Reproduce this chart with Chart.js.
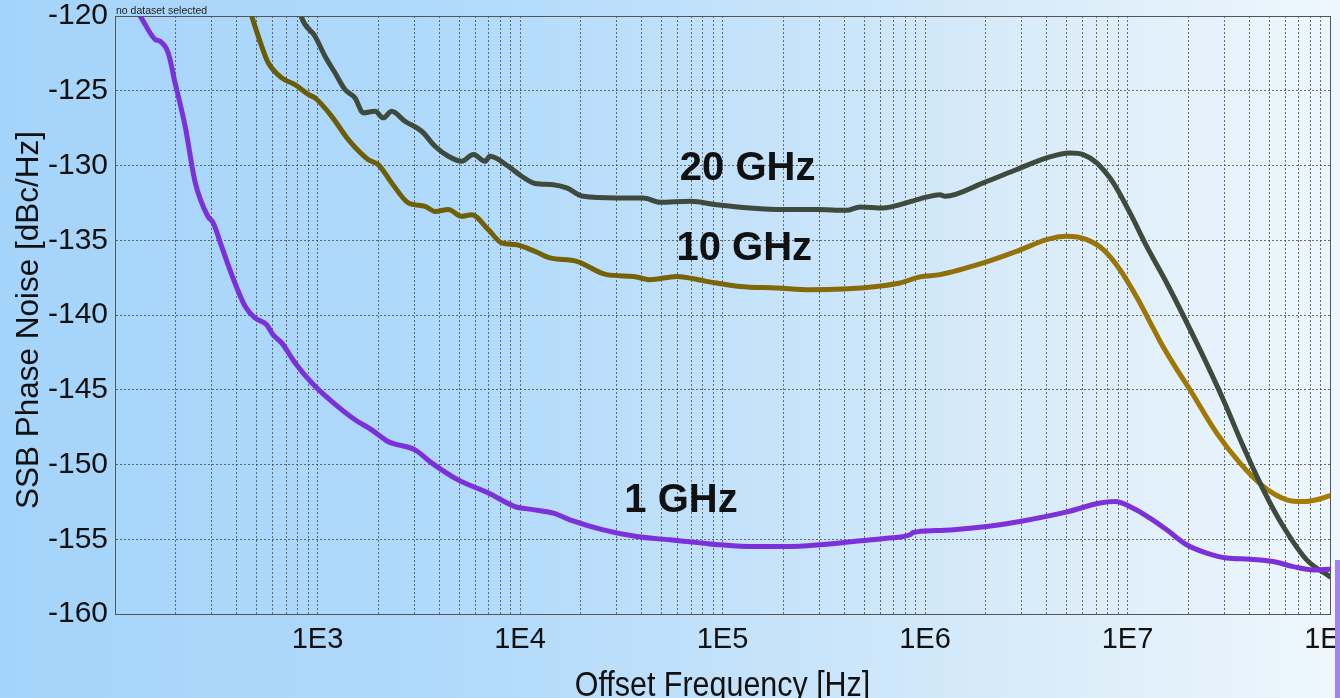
<!DOCTYPE html>
<html>
<head>
<meta charset="utf-8">
<title>SSB Phase Noise</title>
<script src="https://cdn.jsdelivr.net/npm/chart.js@4.4.1/dist/chart.umd.min.js"></script>
<style>
  html, body { margin: 0; padding: 0; overflow: hidden; }
  canvas { display: block; }
</style>
</head>
<body>
<canvas id="noiseChart" width="1340" height="698"></canvas>
<script>
// offset frequency [Hz] / SSB phase noise [dBc/Hz], one pair of arrays per carrier
const freq1G = [120, 133, 158, 167, 183, 198, 222, 249, 288, 305, 336, 377, 439, 491, 561, 603, 665, 774, 936,
  1175, 1532, 1852, 2230, 3030, 3660, 4945, 6950, 9440, 11400, 14600, 17650, 25790, 37700, 55050, 80100, 97200,
  142000, 207500, 303000, 442500, 647000, 843000, 875000, 1143000, 1380000, 2017000, 2945000, 5025000, 7313000,
  8676000, 10680000, 12915000, 15620000, 19600000, 24610000, 30900000, 40250000, 52480000, 65880000, 82700000, 100000000];
const noise1G = [-119.2, -120.0, -121.57, -121.69, -122.46, -124.47, -127.38, -131.14, -133.42, -133.82, -135.41, -137.3, -139.42, -140.2, -140.65, -141.32, -141.87, -143.19, -144.53,
  -145.78, -147.01, -147.68, -148.46, -149.02, -149.89, -151.03, -151.89, -152.81, -153.0, -153.25, -153.7, -154.37, -154.82, -155.04, -155.26, -155.37,
  -155.49, -155.49, -155.37, -155.15, -154.93, -154.7, -154.55, -154.42, -154.37, -154.15, -153.81, -153.17, -152.58,
  -152.48, -152.92, -153.59, -154.37, -155.37, -155.93, -156.26, -156.33, -156.49, -156.83, -157.05, -157.0];

const freq10G = [455, 473, 530, 571, 666, 774, 901, 972, 1175, 1420, 1782, 1996, 2325, 2808, 3396, 3804, 4425, 5154, 5773,
  6975, 8121, 9448, 11860, 14070, 19050, 26800, 36270, 43850, 59400, 83560, 122000, 185200, 270500, 395000, 577500,
  752500, 944800, 1186000, 1941000, 2837000, 3990000, 5010000, 6288000, 7596000, 9183000, 11100000, 13410000, 14470000,
  17000000, 20350000, 27580000, 35950000, 46850000, 61140000, 73850000, 85990000, 100000000];
const noise10G = [-119.3, -120.0, -122.02, -123.13, -124.14, -124.59, -125.25, -125.48, -126.71, -128.27, -129.61, -129.94, -131.17, -132.5, -132.73, -133.07, -132.95, -133.4, -133.29,
  -134.29, -135.18, -135.29, -135.74, -136.18, -136.41, -137.3, -137.42, -137.64, -137.42, -137.75, -138.09, -138.19, -138.31, -138.26, -138.09,
  -137.86, -137.45, -137.3, -136.52, -135.74, -134.96, -134.74, -134.96, -135.63, -136.97, -138.8, -140.9, -141.75,
  -143.35, -145.0, -147.9, -149.91, -151.47, -152.36, -152.48, -152.36, -152.09];

const freq20G = [815, 836, 972, 1089, 1220, 1367, 1532, 1684, 1923, 2113, 2325, 2704, 3270, 3804, 4425, 5154, 5881, 6718, 7111,
  8754, 10190, 11860, 14600, 17010, 20540, 30030, 40630, 49130, 69100, 93630, 136700, 199700, 291900, 410600, 477500,
  622500, 752500, 944800, 1186000, 1256000, 1941000, 2837000, 3990000, 5200000, 6049000, 7046000, 8511000, 10290000,
  12440000, 15620000, 22800000, 29720000, 37310000, 46850000, 58810000, 76720000, 100000000];
const noise20G = [-119.5, -120.12, -121.35, -122.69, -123.8, -124.92, -125.48, -126.48, -126.37, -126.81, -126.37, -127.04, -127.71, -128.71, -129.38, -129.72, -129.27, -129.72, -129.38,
  -130.05, -130.72, -131.2, -131.28, -131.5, -132.06, -132.17, -132.17, -132.46, -132.39, -132.62, -132.84, -132.95, -132.95, -133.0, -132.77,
  -132.84, -132.62, -132.23, -131.95, -132.06, -131.16, -130.27, -129.49, -129.16, -129.27, -129.83, -131.16, -133.17,
  -135.41, -137.86, -142.32, -145.67, -148.8, -151.69, -154.15, -156.38, -157.5];

// carrier names and where their labels sit (Hz, dBc/Hz at the text baseline)
const seriesNames = ['1 GHz', '10 GHz', '20 GHz'];
const labelFreq = [62400, 128000, 133000];
const labelNoise = [-153.17, -136.3, -130.94];

// axis ticks
const xTickValues = [1e3, 1e4, 1e5, 1e6, 1e7, 1e8];
const xTickLabels = ['1E3', '1E4', '1E5', '1E6', '1E7', '1E8'];
const yTickValues = [-160, -155, -150, -145, -140, -135, -130, -125, -120];

const FONT = "'Liberation Sans', Arial, sans-serif";

// grid lines at 1..9 x each decade
const xGridValues = [];
for (let e = 2; e <= 8; e++) {
  for (let m = 1; m <= 9; m++) {
    if (e === 8 && m > 1) break;
    xGridValues.push(m * Math.pow(10, e));
  }
}

function pairs(xs, ys) {
  return xs.map((x, i) => ({ x: x, y: ys[i] }));
}

const backdrop = {
  id: 'backdrop',
  beforeDraw(chart) {
    const ctx = chart.ctx;
    const g = ctx.createLinearGradient(0, 0, chart.width, 0);
    g.addColorStop(0, '#a5d4fa');
    g.addColorStop(0.35, '#b1dafb');
    g.addColorStop(0.6, '#c8e4fa');
    g.addColorStop(0.8, '#dcedf9');
    g.addColorStop(1, '#eef7fd');
    ctx.save();
    ctx.fillStyle = g;
    ctx.fillRect(0, 0, chart.width, chart.height);
    ctx.restore();
  }
};

const decorations = {
  id: 'decorations',
  afterDatasetsDraw(chart) {
    const ctx = chart.ctx;
    const a = chart.chartArea;
    const xs = chart.scales.x, ys = chart.scales.y;
    ctx.save();

    // plot frame
    ctx.strokeStyle = '#555';
    ctx.lineWidth = 1;
    ctx.strokeRect(Math.round(a.left) + 0.5, Math.round(a.top) + 0.5, Math.round(a.right - a.left), Math.round(a.bottom - a.top));

    // carrier labels
    ctx.fillStyle = '#111';
    ctx.font = 'bold 40px ' + FONT;
    ctx.textAlign = 'center';
    ctx.textBaseline = 'alphabetic';
    seriesNames.forEach((name, i) => {
      ctx.fillText(name, xs.getPixelForValue(labelFreq[i]), ys.getPixelForValue(labelNoise[i]));
    });

    // status line
    ctx.font = '10.5px ' + FONT;
    ctx.fillStyle = '#222';
    ctx.textAlign = 'left';
    ctx.fillText('no dataset selected', a.left + 1, a.top - 2);

    // axis titles
    ctx.fillStyle = '#111';
    ctx.textAlign = 'center';
    ctx.save();
    ctx.translate((a.left + a.right) / 2, 696);
    ctx.scale(0.87, 1);
    ctx.font = '35px ' + FONT;
    ctx.fillText('Offset Frequency [Hz]', 0, 0);
    ctx.restore();

    ctx.save();
    ctx.translate(38, (a.top + a.bottom) / 2 + 5);
    ctx.rotate(-Math.PI / 2);
    ctx.font = '31.5px ' + FONT;
    ctx.fillText('SSB Phase Noise [dBc/Hz]', 0, 0);
    ctx.restore();

    // lavender strip at the lower right edge
    ctx.fillStyle = '#a183ef';
    ctx.fillRect(chart.width - 5, 560, 5, chart.height - 560);
    ctx.restore();
  }
};

new Chart(document.getElementById('noiseChart'), {
  type: 'line',
  data: {
    datasets: [
      {
        label: '1 GHz',
        data: pairs(freq1G, noise1G),
        borderColor: '#7b30d9',
        order: 0
      },
      {
        label: '20 GHz',
        data: pairs(freq20G, noise20G),
        borderColor: '#3f493c',
        order: 1
      },
      {
        label: '10 GHz',
        data: pairs(freq10G, noise10G),
        borderColor(context) {
          const area = context.chart.chartArea;
          if (!area) return '#7a6300';
          const g = context.chart.ctx.createLinearGradient(area.left, 0, area.right, 0);
          g.addColorStop(0, '#655a08');
          g.addColorStop(0.45, '#766306');
          g.addColorStop(0.75, '#96720a');
          g.addColorStop(1, '#a67c00');
          return g;
        },
        order: 2
      }
    ]
  },
  options: {
    responsive: false,
    animation: false,
    devicePixelRatio: 1,
    layout: { padding: { top: 16, right: 10, bottom: 0, left: 0 } },
    elements: {
      point: { radius: 0 },
      line: { borderWidth: 5, cubicInterpolationMode: 'monotone', borderJoinStyle: 'round', borderCapStyle: 'round' }
    },
    datasets: { line: { clip: 0 } },
    plugins: {
      legend: { display: false },
      tooltip: { enabled: false }
    },
    scales: {
      x: {
        type: 'logarithmic',
        min: 100,
        max: 1e8,
        afterBuildTicks(scale) {
          scale.ticks = xGridValues.map(v => ({ value: v, major: false }));
        },
        afterFit(scale) {
          scale.height = 84;
          scale.paddingLeft = 0;
          scale.paddingRight = 0;
        },
        ticks: {
          autoSkip: false,
          maxRotation: 0,
          minRotation: 0,
          padding: 9,
          color: '#111',
          font: { family: FONT, size: 29 },
          callback(value) {
            const i = xTickValues.indexOf(value);
            return i >= 0 ? xTickLabels[i] : '';
          }
        },
        grid: { color: 'rgba(70,75,80,0.8)', lineWidth: 1, drawTicks: false },
        border: { display: true, color: '#555', width: 1, dash: [2, 2] }
      },
      y: {
        min: -160,
        max: -120,
        afterBuildTicks(scale) {
          scale.ticks = yTickValues.map(v => ({ value: v }));
        },
        afterFit(scale) {
          scale.width = 115;
          scale.paddingTop = 0;
          scale.paddingBottom = 0;
        },
        ticks: {
          padding: 7,
          color: '#111',
          font: { family: FONT, size: 30 }
        },
        grid: { color: 'rgba(70,75,80,0.8)', lineWidth: 1, drawTicks: false },
        border: { display: true, color: '#555', width: 1, dash: [2, 2] }
      }
    }
  },
  plugins: [backdrop, decorations]
});
</script>
</body>
</html>
